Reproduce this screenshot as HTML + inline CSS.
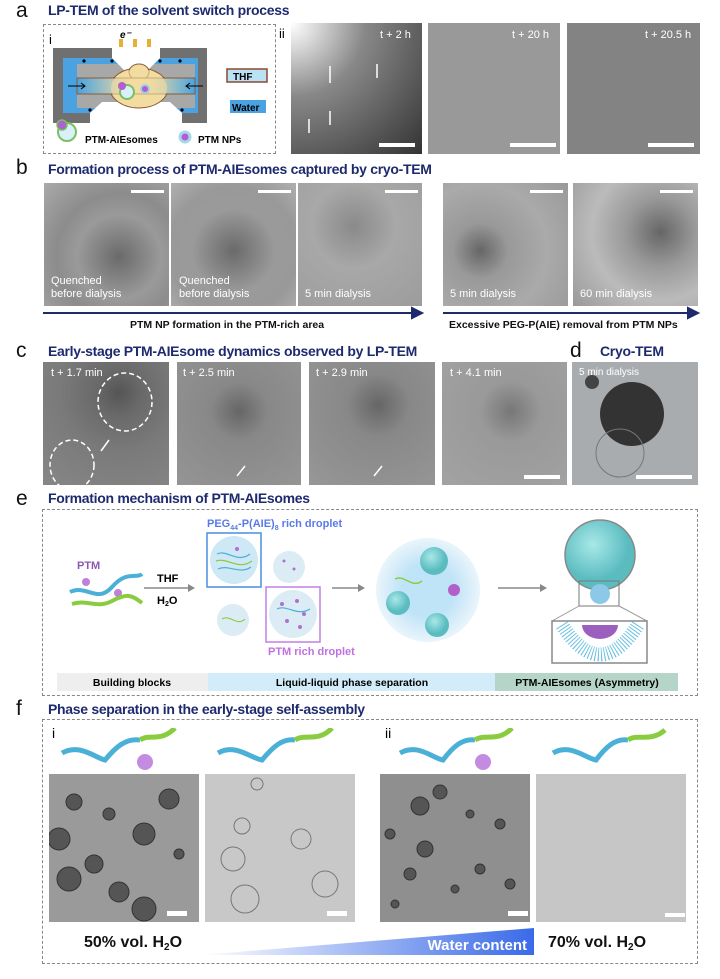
<!DOCTYPE html>
<html><head><meta charset="utf-8"><style>
*{margin:0;padding:0;box-sizing:border-box}
body{width:720px;height:979px;background:#fff;position:relative;overflow:hidden;font-family:"Liberation Sans",sans-serif}
.t{position:absolute;color:#1e2a6e;font-weight:bold;font-size:14px;letter-spacing:-0.3px;white-space:nowrap}
.L{position:absolute;font-size:21px;color:#111;line-height:1}
.im{position:absolute;overflow:hidden}
.lb{position:absolute;color:#fff;font-size:10px;white-space:nowrap}
.sb{position:absolute;height:4px;background:#fff}
.dash{position:absolute;border:1px dashed #888}
.bk{position:absolute;font-weight:bold;font-size:11px;color:#111;white-space:nowrap}
</style></head><body>

<div class="L" style="left:16px;top:0">a</div>
<div class="t" style="left:48px;top:2px">LP-TEM of the solvent switch process</div>
<div class="dash" style="left:43px;top:24px;width:233px;height:130px"></div>
<svg style="position:absolute;left:40px;top:20px" width="240" height="140" viewBox="0 0 240 140">
<text x="9" y="24" font-size="13" font-family="Liberation Sans">i</text>
<text x="80" y="18" font-size="10" font-weight="bold" font-family="Liberation Sans" font-style="italic">e⁻</text>
<g fill="#e8b030"><polygon points="79,19 83,19 83,30 86,30 81,37 76,30 79,30"/><polygon points="93,19 97,19 97,30 100,30 95,37 90,30 93,30"/><polygon points="107,19 111,19 111,30 114,30 109,37 104,30 107,30"/></g>
<rect x="13" y="28" width="154" height="75" fill="#707070"/>
<rect x="23" y="38" width="135" height="55" fill="#4aa3e0"/>
<rect x="37" y="44" width="118" height="44" fill="#a8a8a8"/>
<polygon points="72,27 120,27 120,38 108,50 84,50 72,38" fill="#fff"/>
<polygon points="50,104 142,104 142,93 130,82 62,82 50,93" fill="#fff"/>
<defs><linearGradient id="ch" x1="0" x2="1"><stop offset="0" stop-color="#4aa3e0"/><stop offset="0.45" stop-color="#f3dca0"/><stop offset="0.6" stop-color="#f3dca0"/><stop offset="1" stop-color="#4aa3e0"/></linearGradient></defs>
<ellipse cx="99" cy="68" rx="29" ry="20" fill="#f3dca0" stroke="#8a5a3a" stroke-width="1"/>
<ellipse cx="99" cy="52" rx="10" ry="8" fill="#f3dca0" stroke="#8a5a3a" stroke-width="1"/>
<rect x="37" y="58" width="118" height="16" fill="url(#ch)" stroke="#8a5a3a" stroke-width="1"/>
<ellipse cx="99" cy="68" rx="28" ry="19" fill="#f3dca0" opacity="0.6"/>
<circle cx="87" cy="72" r="7" fill="#d8f0fb" stroke="#7ac060" stroke-width="2"/><circle cx="82" cy="66" r="4" fill="#b060d0"/>
<circle cx="105" cy="69" r="4" fill="#b060d0" stroke="#9fd0e8" stroke-width="2"/>
<g fill="#000"><circle cx="44" cy="41" r="1.6"/><circle cx="72" cy="41" r="1.6"/><circle cx="120" cy="41" r="1.6"/><circle cx="140" cy="41" r="1.6"/><circle cx="50" cy="90" r="1.6"/><circle cx="142" cy="90" r="1.6"/></g>
<path d="M28 66 H45 M41 63 L45 66 L41 69" stroke="#000" fill="none"/>
<path d="M163 66 H146 M150 63 L146 66 L150 69" stroke="#000" fill="none"/>
<rect x="187" y="49" width="40" height="13" fill="#b9e2f5" stroke="#8a4a30" stroke-width="1.5"/>
<text x="193" y="60" font-size="10" font-weight="bold" font-family="Liberation Sans">THF</text>
<rect x="190" y="80" width="36" height="13" fill="#4aa3e0"/>
<text x="192" y="91" font-size="10" font-weight="bold" font-family="Liberation Sans">Water</text>
<circle cx="27" cy="112" r="9" fill="#d8f0fb" stroke="#7ac060" stroke-width="2"/><circle cx="22" cy="105" r="5" fill="#b060d0" stroke="#7ac060" stroke-width="1.5"/>
<text x="45" y="123" font-size="10" font-weight="bold" font-family="Liberation Sans">PTM-AIEsomes</text>
<circle cx="145" cy="117" r="5" fill="#b060d0" stroke="#a6d8ec" stroke-width="3"/>
<text x="158" y="123" font-size="10" font-weight="bold" font-family="Liberation Sans">PTM NPs</text>
</svg>
<div style="position:absolute;left:279px;top:26px;font-size:13px">ii</div>
<div class="im" style="left:291px;top:23px;width:131px;height:131px;background:radial-gradient(circle at 0 0,#fff 0,#ddd 12%,#888 40%,#333 100%)"></div>
<div class="lb" style="left:380px;top:29px;font-size:11px">t + 2 h</div>
<div class="sb" style="left:379px;top:143px;width:36px"></div>
<div class="im" style="left:428px;top:23px;width:132px;height:131px;background:#999"></div>
<div class="lb" style="left:512px;top:29px;font-size:11px">t + 20 h</div>
<div class="sb" style="left:510px;top:143px;width:46px"></div>
<div class="im" style="left:567px;top:23px;width:133px;height:131px;background:#838383"></div>
<div class="lb" style="left:645px;top:29px;font-size:11px">t + 20.5 h</div>
<div class="sb" style="left:648px;top:143px;width:46px"></div>
<svg style="position:absolute;left:291px;top:23px" width="131" height="131"><g stroke="#fff" stroke-width="1.5" fill="#fff"><path d="M39 60V43"/><path d="M86 55V41"/><path d="M18 110V96"/><path d="M39 102V88"/></g></svg>

<div class="L" style="left:16px;top:157px">b</div>
<div class="t" style="left:48px;top:161px">Formation process of PTM-AIEsomes captured by cryo-TEM</div>
<div class="im" style="left:44px;top:183px;width:125px;height:123px;background:radial-gradient(circle at 60% 60%,#6a6a6a 0,#9a9a9a 40%,#8c8c8c 60%,#aaa 100%)"></div>
<div class="im" style="left:171px;top:183px;width:125px;height:123px;background:radial-gradient(circle at 50% 55%,#6a6a6a 0,#9a9a9a 45%,#999 70%,#b0b0b0 100%)"></div>
<div class="im" style="left:298px;top:183px;width:124px;height:123px;background:radial-gradient(circle at 45% 35%,#8a8a8a 0,#a8a8a8 40%,#9c9c9c 100%)"></div>
<div class="im" style="left:443px;top:183px;width:125px;height:123px;background:radial-gradient(circle at 30% 55%,#666 0,#999 25%,#aaa 60%,#999 100%)"></div>
<div class="im" style="left:573px;top:183px;width:125px;height:123px;background:radial-gradient(circle at 70% 40%,#666 0,#999 30%,#bbb 60%,#999 100%)"></div>
<div class="sb" style="left:131px;top:190px;width:33px;height:3px"></div>
<div class="sb" style="left:258px;top:190px;width:33px;height:3px"></div>
<div class="sb" style="left:385px;top:190px;width:33px;height:3px"></div>
<div class="sb" style="left:530px;top:190px;width:33px;height:3px"></div>
<div class="sb" style="left:660px;top:190px;width:33px;height:3px"></div>
<div class="lb" style="left:51px;top:275px;font-size:11px;line-height:13px">Quenched<br>before dialysis</div>
<div class="lb" style="left:179px;top:275px;font-size:11px;line-height:13px">Quenched<br>before dialysis</div>
<div class="lb" style="left:305px;top:288px;font-size:11px">5 min dialysis</div>
<div class="lb" style="left:450px;top:288px;font-size:11px">5 min dialysis</div>
<div class="lb" style="left:580px;top:288px;font-size:11px">60 min dialysis</div>
<svg style="position:absolute;left:0;top:306px" width="720" height="14"><g stroke="#1e2a6e" stroke-width="2" fill="#1e2a6e"><path d="M43 7H418"/><polygon points="422,7 412,2 412,12"/><path d="M443 7H694"/><polygon points="698,7 688,2 688,12"/></g></svg>
<div class="bk" style="left:130px;top:319px;font-size:10.5px">PTM NP formation in the PTM-rich area</div>
<div class="bk" style="left:449px;top:319px;font-size:10.5px">Excessive PEG-P(AIE) removal from PTM NPs</div>

<div class="L" style="left:16px;top:340px">c</div>
<div class="t" style="left:48px;top:343px">Early-stage PTM-AIEsome dynamics observed by LP-TEM</div>
<div class="L" style="left:570px;top:340px">d</div>
<div class="t" style="left:600px;top:343px">Cryo-TEM</div>
<div class="im" style="left:43px;top:362px;width:126px;height:123px;background:radial-gradient(circle at 60% 25%,#555 0,#6a6a6a 20%,#7a7a7a 50%,#878787 100%)"></div>
<div class="im" style="left:177px;top:362px;width:124px;height:123px;background:radial-gradient(circle at 50% 40%,#666 0,#888 30%,#959595 100%)"></div>
<div class="im" style="left:309px;top:362px;width:126px;height:123px;background:radial-gradient(circle at 55% 35%,#666 0,#888 30%,#979797 100%)"></div>
<div class="im" style="left:442px;top:362px;width:125px;height:123px;background:radial-gradient(circle at 55% 40%,#777 0,#999 30%,#a3a3a3 100%)"></div>
<div class="im" style="left:572px;top:362px;width:126px;height:123px;background:#a9acae"></div>
<svg style="position:absolute;left:572px;top:362px" width="126" height="123"><circle cx="60" cy="52" r="32" fill="#333"/><circle cx="48" cy="91" r="24" fill="none" stroke="#777"/><circle cx="20" cy="20" r="7" fill="#444"/></svg>
<svg style="position:absolute;left:43px;top:362px" width="126" height="123"><g stroke="#fff" stroke-width="1.5" fill="none" stroke-dasharray="5,3"><ellipse cx="82" cy="40" rx="27" ry="29"/><ellipse cx="29" cy="103" rx="22" ry="25"/></g><path d="M58 89L66 78" stroke="#fff" stroke-width="1.5"/></svg>
<svg style="position:absolute;left:177px;top:362px" width="124" height="123"><path d="M60 114L68 104" stroke="#fff" stroke-width="1.5"/></svg>
<svg style="position:absolute;left:309px;top:362px" width="126" height="123"><path d="M65 114L73 104" stroke="#fff" stroke-width="1.5"/></svg>
<div class="lb" style="left:51px;top:367px;font-size:11px">t + 1.7 min</div>
<div class="lb" style="left:183px;top:367px;font-size:11px">t + 2.5 min</div>
<div class="lb" style="left:316px;top:367px;font-size:11px">t + 2.9 min</div>
<div class="lb" style="left:450px;top:367px;font-size:11px">t + 4.1 min</div>
<div class="lb" style="left:579px;top:367px;font-size:10px">5 min dialysis</div>
<div class="sb" style="left:524px;top:475px;width:36px"></div>
<div class="sb" style="left:636px;top:475px;width:56px"></div>

<div class="L" style="left:16px;top:488px">e</div>
<div class="t" style="left:48px;top:490px">Formation mechanism of PTM-AIEsomes</div>
<div class="dash" style="left:42px;top:509px;width:656px;height:187px"></div>
<svg style="position:absolute;left:42px;top:509px" width="656" height="187" font-family="Liberation Sans">
<text x="165" y="18" font-size="11" font-weight="bold" fill="#5a7ae8">PEG<tspan font-size="7" dy="3">44</tspan><tspan dy="-3">-P(AIE)</tspan><tspan font-size="7" dy="3">8</tspan><tspan dy="-3"> rich droplet</tspan></text>
<text x="35" y="60" font-size="11" font-weight="bold" fill="#8a5ab0">PTM</text>
<circle cx="44" cy="73" r="4" fill="#c080d8"/><circle cx="76" cy="84" r="4" fill="#c080d8"/>
<path d="M28 83 C45 75,55 95,70 78 S95 70,100 65" stroke="#4ab0d8" stroke-width="4" fill="none"/>
<path d="M30 95 C45 90,55 100,70 92 S90 86,100 94" stroke="#8acc40" stroke-width="4" fill="none"/>
<path d="M102 79H148" stroke="#888" stroke-width="1.5"/><polygon points="153,79 146,75 146,83" fill="#888"/>
<text x="115" y="73" font-size="11" font-weight="bold">THF</text>
<text x="115" y="95" font-size="11" font-weight="bold">H<tspan font-size="7" dy="2">2</tspan><tspan dy="-2">O</tspan></text>
<rect x="165" y="24" width="54" height="54" fill="none" stroke="#4a8ee0" stroke-width="1.5"/>
<circle cx="192" cy="51" r="24" fill="#cfe8f5"/>
<circle cx="247" cy="58" r="16" fill="#dcecf5"/>
<circle cx="191" cy="111" r="16" fill="#dcecf5"/>
<rect x="224" y="78" width="54" height="55" fill="none" stroke="#c080e8" stroke-width="1.5"/>
<circle cx="251" cy="105" r="24" fill="#dcecf5"/>
<g fill="#b070d0"><circle cx="240" cy="95" r="2"/><circle cx="255" cy="92" r="2"/><circle cx="262" cy="105" r="2"/><circle cx="245" cy="112" r="2"/><circle cx="258" cy="118" r="2"/><circle cx="242" cy="52" r="1.5"/><circle cx="252" cy="60" r="1.5"/><circle cx="195" cy="40" r="2"/></g>
<g stroke="#4ab0d8" stroke-width="1.2" fill="none"><path d="M175 45 C185 40,195 55,208 45"/><path d="M176 60 C186 55,198 66,209 58"/><path d="M235 100 C245 95,255 108,268 100"/></g>
<g stroke="#8acc40" stroke-width="1.2" fill="none"><path d="M174 52 C186 48,196 62,210 52"/><path d="M180 110 C188 105,195 118,203 110"/></g>
<text x="226" y="146" font-size="11" font-weight="bold" fill="#c070e0">PTM rich droplet</text>
<path d="M290 79H318" stroke="#888" stroke-width="1.5"/><polygon points="323,79 316,75 316,83" fill="#888"/>
<defs><radialGradient id="bg"><stop offset="0.5" stop-color="#bfe3f7"/><stop offset="1" stop-color="#eaf5fb"/></radialGradient><radialGradient id="sp" cx="0.4" cy="0.35"><stop offset="0" stop-color="#a8e8e8"/><stop offset="1" stop-color="#5bbcc0"/></radialGradient></defs>
<circle cx="386" cy="81" r="52" fill="url(#bg)"/>
<circle cx="392" cy="52" r="14" fill="url(#sp)"/><circle cx="356" cy="94" r="12" fill="url(#sp)"/><circle cx="395" cy="116" r="12" fill="url(#sp)"/><circle cx="412" cy="81" r="6" fill="#b060c8"/>
<path d="M353 70 C362 65,370 80,380 72" stroke="#8acc40" stroke-width="1.5" fill="none"/>
<path d="M456 79H500" stroke="#888" stroke-width="1.5"/><polygon points="505,79 498,75 498,83" fill="#888"/>
<circle cx="558" cy="46" r="35" fill="url(#sp)" stroke="#888" stroke-width="1.5"/>
<circle cx="558" cy="85" r="10" fill="#8ec8e8"/>
<rect x="537" y="72" width="40" height="25" fill="none" stroke="#777"/>
<path d="M537 97L510 112M577 97L605 112" stroke="#999"/>
<rect x="510" y="112" width="95" height="42" fill="#fff" stroke="#888" stroke-width="1.5"/>
<path d="M520 116 Q558 175 596 116" stroke="#6ac0e0" stroke-width="14" fill="none" stroke-dasharray="1,2"/>
<path d="M540 116 A18 14 0 0 0 576 116Z" fill="#9b5fc0"/>
<rect x="15" y="164" width="151" height="18" fill="#eeeeee"/>
<rect x="166" y="164" width="287" height="18" fill="#d2edf9"/>
<rect x="453" y="164" width="183" height="18" fill="#b5d5c9"/>
<text x="90" y="177" font-size="10.5" font-weight="bold" text-anchor="middle">Building blocks</text>
<text x="310" y="177" font-size="10.5" font-weight="bold" text-anchor="middle">Liquid-liquid phase separation</text>
<text x="545" y="177" font-size="10.5" font-weight="bold" text-anchor="middle">PTM-AIEsomes (Asymmetry)</text>
</svg>

<div class="L" style="left:16px;top:698px">f</div>
<div class="t" style="left:48px;top:701px">Phase separation in the early-stage self-assembly</div>
<div class="dash" style="left:42px;top:719px;width:656px;height:245px"></div>
<div style="position:absolute;left:52px;top:725px;font-size:14px">i</div>
<div style="position:absolute;left:385px;top:725px;font-size:14px">ii</div>
<svg style="position:absolute;left:0;top:728px" width="720" height="45">
<g fill="none" stroke-width="5"><path d="M62 25 C80 15,95 30,105 32 C115 20,125 10,140 12" stroke="#4ab0d8"/><path d="M140 12 C150 5,160 15,175 0" stroke="#8acc40"/>
<path d="M218 25 C235 15,250 30,262 32 C272 20,282 10,295 12" stroke="#4ab0d8"/><path d="M295 12 C305 5,318 15,332 0" stroke="#8acc40"/>
<path d="M400 25 C418 15,432 30,443 32 C452 20,462 10,475 12" stroke="#4ab0d8"/><path d="M475 12 C485 5,498 15,512 0" stroke="#8acc40"/>
<path d="M553 25 C570 15,585 30,596 32 C605 20,615 10,628 12" stroke="#4ab0d8"/><path d="M628 12 C638 5,650 15,665 2" stroke="#8acc40"/></g>
<circle cx="145" cy="34" r="8" fill="#c48ce0"/><circle cx="483" cy="34" r="8" fill="#c48ce0"/></svg>
<div class="im" style="left:49px;top:774px;width:150px;height:148px;background:#9a9a9a"></div>
<div class="im" style="left:205px;top:774px;width:150px;height:148px;background:#c8c8c8"></div>
<div class="im" style="left:380px;top:774px;width:150px;height:148px;background:#8f8f8f"></div>
<div class="im" style="left:536px;top:774px;width:150px;height:148px;background:#c6c6c6"></div>
<svg style="position:absolute;left:49px;top:774px" width="150" height="148"><g fill="#555" stroke="#333"><circle cx="25" cy="28" r="8"/><circle cx="120" cy="25" r="10"/><circle cx="10" cy="65" r="11"/><circle cx="95" cy="60" r="11"/><circle cx="45" cy="90" r="9"/><circle cx="20" cy="105" r="12"/><circle cx="70" cy="118" r="10"/><circle cx="95" cy="135" r="12"/><circle cx="60" cy="40" r="6"/><circle cx="130" cy="80" r="5"/></g></svg>
<svg style="position:absolute;left:205px;top:774px" width="150" height="148"><g fill="none" stroke="#777"><circle cx="52" cy="10" r="6"/><circle cx="37" cy="52" r="8"/><circle cx="96" cy="65" r="10"/><circle cx="28" cy="85" r="12"/><circle cx="120" cy="110" r="13"/><circle cx="40" cy="125" r="14"/></g></svg>
<svg style="position:absolute;left:380px;top:774px" width="150" height="148"><g fill="#555" stroke="#333"><circle cx="60" cy="18" r="7"/><circle cx="40" cy="32" r="9"/><circle cx="45" cy="75" r="8"/><circle cx="10" cy="60" r="5"/><circle cx="90" cy="40" r="4"/><circle cx="100" cy="95" r="5"/><circle cx="30" cy="100" r="6"/><circle cx="120" cy="50" r="5"/><circle cx="75" cy="115" r="4"/><circle cx="130" cy="110" r="5"/><circle cx="15" cy="130" r="4"/></g></svg>
<div class="sb" style="left:167px;top:911px;width:20px;height:5px"></div>
<div class="sb" style="left:327px;top:911px;width:20px;height:5px"></div>
<div class="sb" style="left:508px;top:911px;width:20px;height:5px"></div>
<div class="sb" style="left:665px;top:913px;width:20px;height:4px"></div>
<div class="bk" style="left:84px;top:934px;font-size:16px">50% vol. H<span style="font-size:10px;vertical-align:-3px">2</span>O</div>
<svg style="position:absolute;left:200px;top:928px" width="335" height="28"><defs><linearGradient id="wg" x1="0" x2="1"><stop offset="0" stop-color="#fff"/><stop offset="1" stop-color="#3a6ae8"/></linearGradient></defs><polygon points="0,27 334,0 334,27" fill="url(#wg)"/><text x="327" y="22" text-anchor="end" font-family="Liberation Sans" font-size="15" font-weight="bold" fill="#fff">Water content</text></svg>
<div class="bk" style="left:548px;top:934px;font-size:16px">70% vol. H<span style="font-size:10px;vertical-align:-3px">2</span>O</div>
</body></html>
